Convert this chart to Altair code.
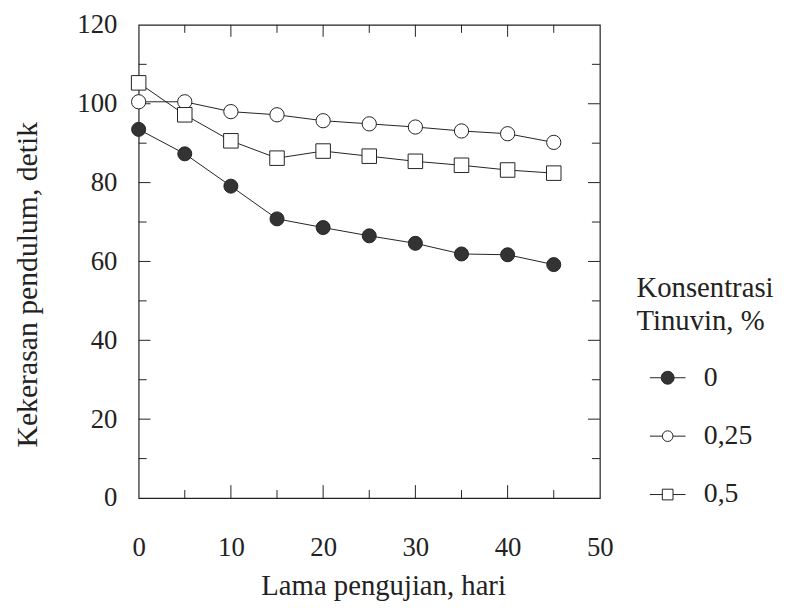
import altair as alt
import pandas as pd

# ---- data ----
days = [0, 5, 10, 15, 20, 25, 30, 35, 40, 45]
series_names = ["0", "0,25", "0,5"]
val_0 = [93.5, 87.3, 79.1, 70.8, 68.6, 66.5, 64.6, 61.9, 61.7, 59.2]
val_025 = [100.5, 100.5, 98.0, 97.2, 95.7, 94.9, 94.1, 93.1, 92.4, 90.2]
val_05 = [105.3, 97.2, 90.6, 86.2, 88.0, 86.7, 85.4, 84.4, 83.2, 82.4]

x_labels = [0, 10, 20, 30, 40, 50]
y_labels = [0, 20, 40, 60, 80, 100, 120]
x_major_ticks = [10, 20, 30, 40]
x_minor_ticks = [5, 15, 25, 35, 45]
y_major_ticks = [20, 40, 60, 80, 100]
y_minor_ticks = [10, 30, 50, 70, 90, 110]

W, H = 466, 478
FONT = "Liberation Serif"
INK = "#222222"

rows = []
for name, vals in zip(series_names, [val_0, val_025, val_05]):
    for d, v in zip(days, vals):
        rows.append({"day": d, "value": v, "series": name})
df = pd.DataFrame(rows)

xs = alt.Scale(domain=[0, 50], nice=False, zero=False)
ys = alt.Scale(domain=[0, 120], nice=False, zero=False)

x_axis = alt.Axis(values=x_labels, tickSize=0, domain=False, grid=False,
                  labelFlush=False, labelPadding=37, labelFontSize=27,
                  labelFont=FONT, labelColor=INK, title="Lama pengujian, hari",
                  titleFont=FONT, titleFontSize=29, titleFontWeight="normal",
                  titleColor=INK, titleX=247, titleY=88,
                  titleBaseline="middle")
y_axis = alt.Axis(values=y_labels, tickSize=0, domain=False, grid=False,
                  labelFlush=False, labelPadding=22, labelFontSize=27,
                  labelFont=FONT, labelColor=INK,
                  title="Kekerasan pendulum, detik",
                  titleFont=FONT, titleFontSize=30, titleFontWeight="normal",
                  titleColor=INK, titleX=-112, titleY=262,
                  titleBaseline="middle", titleAngle=-90)

lines = alt.Chart(df).mark_line(color=INK, strokeWidth=1).encode(
    x=alt.X("day:Q", scale=xs, axis=x_axis),
    y=alt.Y("value:Q", scale=ys, axis=y_axis),
    detail="series:N",
)

points = alt.Chart(df).mark_point(filled=True, stroke=INK, strokeWidth=1, opacity=1).encode(
    x=alt.X("day:Q", scale=xs, axis=x_axis),
    y=alt.Y("value:Q", scale=ys, axis=y_axis),
    shape=alt.Shape("series:N", scale=alt.Scale(domain=series_names,
                                                range=["circle", "circle", "square"]),
                    legend=None),
    fill=alt.Fill("series:N", scale=alt.Scale(domain=series_names,
                                              range=["#333333", "white", "white"]),
                  legend=None),
    size=alt.Size("series:N", scale=alt.Scale(domain=series_names,
                                              range=[200, 215, 235]),
                  legend=None),
)

leg_paths = [
    "M-1,0H-0.36M0.36,0H1M0.36,0A0.36,0.36 0 1,1 -0.36,0A0.36,0.36 0 1,1 0.36,0Z",
    "M-1,0H-0.3M0.3,0H1M0.3,0A0.3,0.3 0 1,1 -0.3,0A0.3,0.3 0 1,1 0.3,0Z",
    "M-1,0H-0.3M0.3,0H1M-0.3,-0.3H0.3V0.3H-0.3Z",
]
leg = alt.Legend(title=["Konsentrasi", "Tinuvin, %"], orient="none",
                 legendX=503, legendY=252, titleFont=FONT, titleFontSize=29,
                 titleFontWeight="normal", titleColor=INK, titleLineHeight=33,
                 titlePadding=24, labelFont=FONT, labelFontSize=28,
                 labelColor=INK, symbolSize=1296, symbolStrokeWidth=1,
                 symbolStrokeColor=INK, symbolOffset=13, labelOffset=18,
                 rowPadding=26)
legend_layer = alt.Chart(df).transform_filter("datum.day < 0").mark_point(
    filled=True, strokeWidth=1, opacity=1).encode(
    x=alt.X("day:Q", scale=xs, axis=x_axis),
    y=alt.Y("value:Q", scale=ys, axis=y_axis),
    shape=alt.Shape("series:N", scale=alt.Scale(domain=series_names, range=leg_paths),
                    legend=leg),
    fill=alt.Fill("series:N", scale=alt.Scale(domain=series_names,
                                              range=["#333333", "white", "white"]),
                  legend=leg),
    stroke=alt.Stroke("series:N", scale=alt.Scale(domain=series_names,
                                                  range=[INK, INK, INK]),
                      legend=leg),
)


def xtick_layer(vals, length, top):
    d = pd.DataFrame({"t": vals})
    if top:
        y1, y2 = alt.value(0), alt.value(length)
    else:
        y1, y2 = alt.value(H), alt.value(H - length)
    return alt.Chart(d).mark_rule(color=INK, strokeWidth=1).encode(
        x=alt.X("t:Q", scale=xs, axis=x_axis), y=y1, y2=y2)


def ytick_layer(vals, length, right):
    d = pd.DataFrame({"t": vals})
    if right:
        x1, x2 = alt.value(W), alt.value(W - length)
    else:
        x1, x2 = alt.value(0), alt.value(length)
    return alt.Chart(d).mark_rule(color=INK, strokeWidth=1).encode(
        y=alt.Y("t:Q", scale=ys, axis=y_axis), x=x1, x2=x2)


ticks = [
    xtick_layer(x_major_ticks, 13, False), xtick_layer(x_minor_ticks, 8, False),
    xtick_layer(x_major_ticks, 12, True), xtick_layer(x_minor_ticks, 8, True),
    ytick_layer(y_major_ticks, 12, False), ytick_layer(y_minor_ticks, 8, False),
    ytick_layer(y_major_ticks, 12, True), ytick_layer(y_minor_ticks, 8, True),
]

chart = alt.layer(lines, *ticks, points, legend_layer).resolve_scale(
    shape="independent", fill="independent", stroke="independent"
).properties(
    width=W, height=H,
    padding={"left": 132, "top": 14, "right": 182, "bottom": 103},
    autosize=alt.AutoSizeParams(type="none"),
    background="white",
).configure_view(stroke=INK, strokeWidth=1.2)

chart.save("out.html", embed_options={"renderer": "svg", "actions": False})
